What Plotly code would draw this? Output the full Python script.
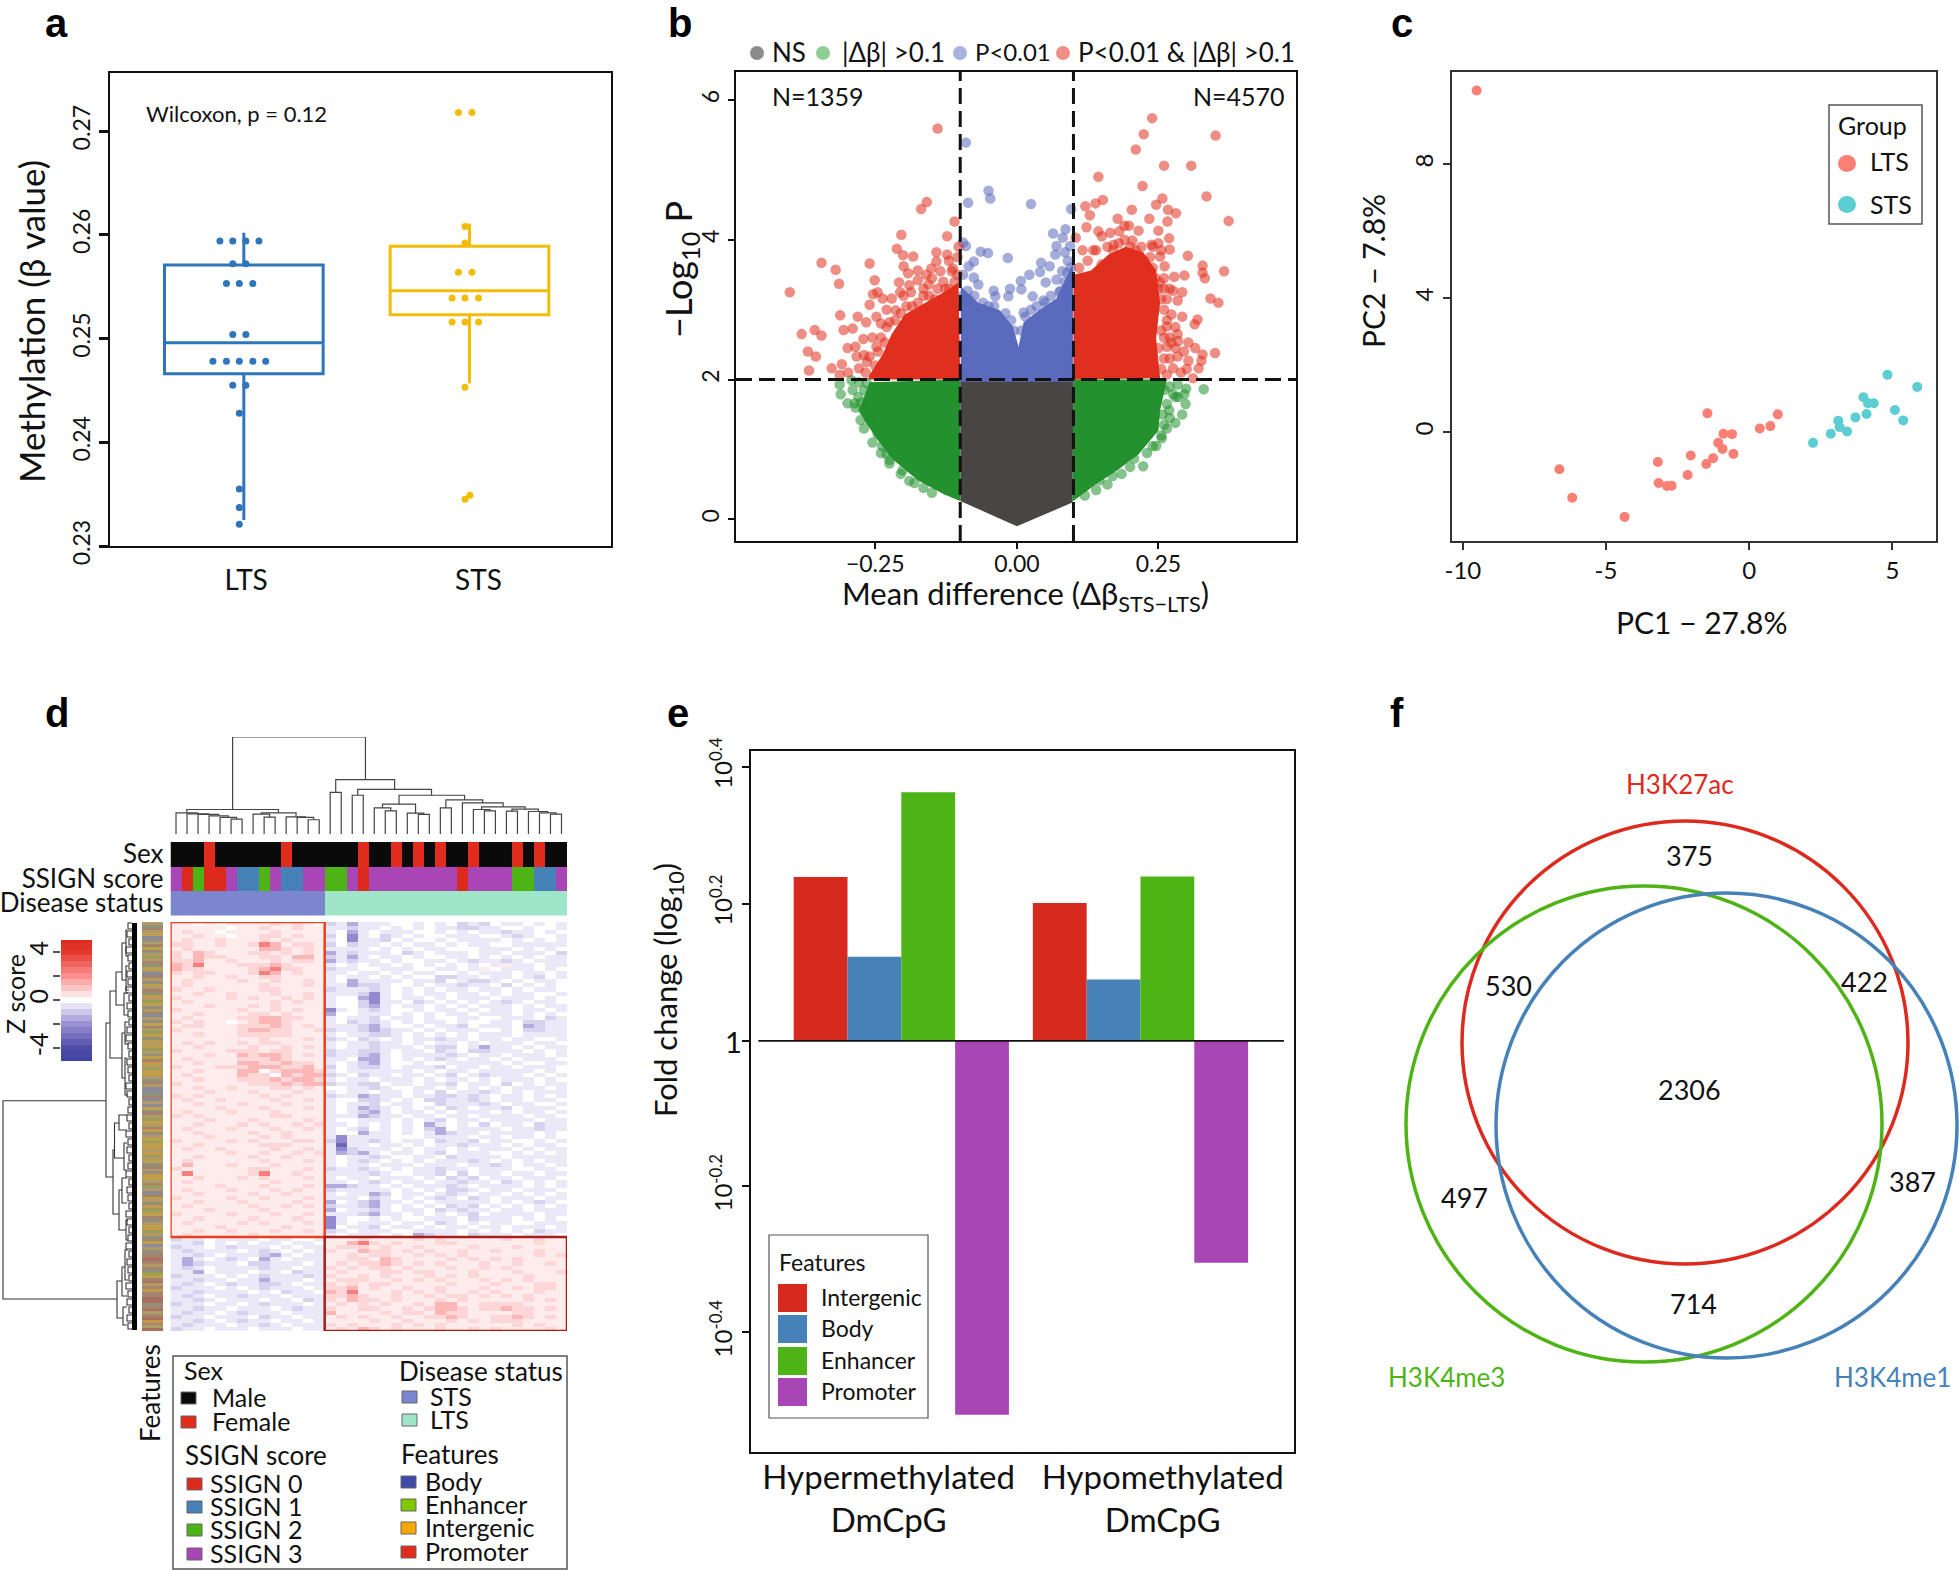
import plotly.graph_objects as go

W, H = 1959, 1570
FONT = "Lato, 'Noto Sans', sans-serif"

# ---- panel a ----
LTS_BOX = dict(q1=0.2466, median=0.2496, q3=0.2571, lowerfence=0.2325, upperfence=0.2602)
STS_BOX = dict(q1=0.2523, median=0.2546, q3=0.2589, lowerfence=0.2457, upperfence=0.2611)
LTS_X = [.894, .951, 1.009, 1.067, .951, 1.009, .923, .98, 1.04, .951, 1.009, .863, .923, .98, 1.04, 1.097, .951, 1.009, .98, .98, .98, .98]
LTS_Y = [.2594, .2594, .2594, .2594, .2572, .2572, .2553, .2553, .2553, .2504, .2504, .2478, .2478, .2478, .2478, .2478, .2455, .2455, .2428, .2355, .2337, .2321]
STS_X = [1.951, 2.011, 1.98, 1.98, 1.951, 2.011, 1.923, 1.98, 2.04, 1.923, 1.98, 2.04, 1.98, 2.002, 1.98]
STS_Y = [.2718, .2718, .2608, .2592, .2564, .2564, .2539, .2539, .2539, .2516, .2516, .2516, .2453, .2349, .2345]

# ---- panel b: outlines of the solid masses, then the points that stand clear of them ----
NS_X = [-0.1, 0.1, 0.098, 0.0, -0.099]
NS_Y = [2.0, 2.0, 0.24, -0.1, 0.26]
GREEN_L_X = [-0.1, -0.26, -0.279, -0.267, -0.248, -0.221, -0.175, -0.129, -0.099]
GREEN_L_Y = [2.0, 1.96, 1.56, 1.39, 1.16, 0.87, 0.56, 0.36, 0.26]
GREEN_R_X = [0.1, 0.098, 0.139, 0.177, 0.215, 0.25, 0.253, 0.265]
GREEN_R_Y = [2.0, 0.25, 0.50, 0.70, 0.93, 1.27, 1.56, 2.0]
RED_L_X = [-0.1, -0.103, -0.129, -0.168, -0.198, -0.221, -0.237, -0.26, -0.263]
RED_L_Y = [2.0, 3.39, 3.25, 3.07, 2.93, 2.65, 2.36, 2.07, 2.0]
RED_R_X = [0.1, 0.1, 0.131, 0.162, 0.192, 0.223, 0.246, 0.253, 0.246, 0.253]
RED_R_Y = [2.0, 3.5, 3.56, 3.79, 3.9, 3.82, 3.56, 3.1, 2.59, 2.02]
BLUE_X = [-0.099, -0.099, -0.068, -0.03, -0.007, 0.003, 0.012, 0.039, 0.07, 0.099, 0.099]
BLUE_Y = [1.97, 3.33, 3.10, 2.99, 2.76, 2.47, 2.82, 2.99, 3.16, 3.67, 1.97]

RED_X = [-.401, -.380, -.357, -.345, -.369, -.355, -.367, -.345, -.320, -.314, -.312, -.327, -.309, -.306, -.299, -.290, -.281, -.285, -.271, -.266, -.260, -.251, -.254, -.248,
         -.212, -.204, -.201, -.169, -.159, -.140, -.110, -.123, -.103, -.183, -.142, -.123, -.142, -.113, -.200, -.192, -.175, -.160, -.151, -.208, -.237, -.221, -.206, -.187, -.175, -.156, -.126,
         -.283, -.279, -.267, -.298, -.260, -.248, -.233, -.225, -.214, -.260, -.246, -.313,
         .239, .224, .210, .351, .260, .308, .144, .222, .152, .139, .121, .129, .203, .335, .374, .257, .246, .267, .281, .234, .266, .178, .198, .123, .144, .181, .215, .250, .269, .104,
         .171, .204, .270, .116, .135, .302, .328, .328, .332, .366, .296, .278, .276, .292, .284, .342, .356, .319, .314, .273, .292, .284, .273, .303, .315, .328, .350, .326, .321, .284, .303, .276, .265, .265, .311, .265, .253, .261, .253, .238,
         .11, .125, .14, .15, .16, .17, .18, .19, .2, .21, .22, .225, .235, .24, .245, .25, .255, .26, .265, .255, .25, .26, .255, .27, .27, .26, .28, .28, .285, .295, .29, .3, .26, .265, .27, .24, .25, .255, .26, .15, .165, .19,
         -.105, -.11, -.12, -.115, -.13, -.14, -.145, -.155, -.165, -.175, -.185, -.195, -.205, -.215, -.23, -.24, -.245, -.25, -.265, -.27, -.255, -.24, -.23, -.2, -.19, -.165, -.15, -.135, -.12, -.105]
RED_Y = [3.25, 2.65, 2.71, 2.63, 2.40, 2.33, 2.13, 3.67, 3.57, 3.37, 2.92, 2.16, 2.22, 2.71, 2.45, 2.73, 2.90, 2.47, 2.58, 2.82, 3.66, 3.42, 3.22, 2.90,
         3.87, 4.07, 3.78, 4.44, 4.54, 5.59, 4.26, 4.05, 3.90, 3.76, 3.82, 3.79, 3.69, 3.59, 3.62, 3.52, 3.56, 3.50, 3.59, 3.39, 3.16, 3.16, 3.25, 3.25, 3.42, 3.36, 3.30,
         2.33, 2.16, 2.10, 2.10, 2.33, 2.47, 2.53, 2.82, 2.99, 3.07, 3.25, 2.07,
         5.74, 5.51, 5.29, 5.49, 5.06, 5.06, 4.90, 4.77, 4.57, 4.52, 4.48, 4.35, 4.43, 4.62, 4.27, 4.59, 4.50, 4.43, 4.38, 4.30, 4.26, 4.30, 4.20, 4.18, 4.12, 4.12, 4.13, 4.13, 4.02, 4.03,
         3.93, 3.99, 3.86, 3.85, 3.85, 3.77, 3.63, 3.53, 3.45, 3.55, 3.49, 3.47, 3.27, 3.25, 3.13, 3.16, 3.10, 2.86, 2.79, 2.93, 2.90, 2.65, 2.53, 2.53, 2.45, 2.36, 2.38, 2.27, 2.16, 2.33, 2.27, 2.16, 2.47, 2.76, 2.02, 2.07, 3.39, 3.62, 3.76, 3.93,
         3.6, 3.7, 3.85, 3.65, 3.9, 3.85, 3.95, 4.0, 3.9, 3.85, 3.9, 3.7, 3.75, 3.6, 3.45, 3.3, 3.15, 3.0, 2.85, 2.7, 2.45, 2.3, 2.15, 2.3, 2.6, 2.6, 2.45, 2.75, 2.55, 2.4, 2.1, 2.15, 3.3, 3.15, 3.3, 3.9, 3.95, 3.85, 3.45, 4.05, 4.1, 4.2,
         3.5, 3.4, 3.3, 3.55, 3.4, 3.3, 3.15, 3.2, 3.2, 3.1, 3.05, 3.05, 2.95, 2.85, 2.75, 2.6, 2.4, 2.2, 2.25, 2.35, 2.6, 2.8, 3.0, 3.2, 3.35, 3.3, 3.45, 3.55, 3.7, 3.75]
PBLUE_X = [-.090, -.050, -.047, -.086, .025, .096, .086, .064, .081, -.095, -.090, -.064, -.051, -.016, .094, .07, .068, .085, .043, .058, .041, .022, .007, .051, .070, .089, -.076, -.085, -.095, -.076, -.068, -.087, -.041, -.012, .008, -.038, -.015, .028, .077, .047, .012,
           -.095, -.085, -.075, -.06, -.05, -.04, -.02, -.01, .015, .025, .035, .05, .06, .075, .085, .095, .09, .08, -.005, .008]
PBLUE_Y = [5.39, 4.70, 4.59, 4.53, 4.51, 4.44, 4.15, 4.09, 4.03, 3.96, 3.91, 3.83, 3.81, 3.74, 3.91, 3.91, 3.79, 3.82, 3.67, 3.62, 3.54, 3.50, 3.41, 3.39, 3.43, 3.53, 3.69, 3.62, 3.50, 3.46, 3.36, 3.27, 3.27, 3.30, 3.29, 3.19, 3.19, 3.19, 3.27, 3.13, 2.96,
           3.2, 3.15, 3.2, 3.1, 3.05, 3.05, 2.95, 2.85, 2.9, 3.0, 3.05, 3.1, 3.2, 3.25, 3.4, 3.6, 3.7, 3.55, 2.7, 2.7]
PGREEN_X = [-.313, -.292, -.311, -.299, -.286, -.279, -.275, -.271, -.276, -.26, -.246, -.238, -.230, -.225, -.181, -.202,
            .284, .330, .299, .296, .298, .292, .280, .265, .256, .223, .269, .257, .246, .276, .261, .207, .169, .146,
            -.28, -.285, -.27, -.255, -.24, -.225, -.205, -.19, -.165, -.15, -.27, -.29, -.265,
            .27, .28, .265, .27, .26, .255, .24, .23, .2, .185, .16, .14, .12, .285]
PGREEN_Y = [1.93, 1.99, 1.79, 1.66, 1.66, 1.96, 1.67, 1.56, 1.42, 1.42, 1.22, 1.05, .93, .85, .52, .70,
            1.93, 1.86, 1.87, 1.79, 1.65, 1.50, 1.38, 1.30, 1.16, .76, 1.56, 1.50, 1.05, 1.79, 1.85, .87, .62, .56,
            1.75, 1.6, 1.3, 1.1, .95, .8, .65, .55, .45, .38, 1.85, 1.85, 1.95,
            1.9, 1.75, 1.65, 1.45, 1.35, 1.2, 1.05, .95, .75, .65, .5, .42, .34, 1.75]

# ---- panel c ----
PC_LTS_X = [-9.52, -6.63, -6.18, -4.35, -3.19, -3.16, -2.87, -2.71, -2.15, -2.04, -1.50, -1.26, -1.08, -0.93, -0.90, -0.60, -0.55, -1.46, 0.37, 0.74, 1.00]
PC_LTS_Y = [10.2, -1.11, -1.96, -2.53, -0.89, -1.52, -1.61, -1.60, -1.28, -0.70, -0.95, -0.78, -0.32, -0.50, -0.05, -0.06, -0.65, 0.56, 0.11, 0.18, 0.53]
PC_STS_X = [2.23, 2.85, 3.11, 3.16, 3.42, 3.71, 3.99, 4.10, 4.15, 4.35, 4.83, 5.09, 5.38, 5.87]
PC_STS_Y = [-0.32, -0.05, 0.34, 0.15, 0.02, 0.44, 1.04, 0.54, 0.86, 0.86, 1.71, 0.66, 0.35, 1.35]

# ---- panel d: one digit per cell, level of the z score ----
Z_LEVELS = [-3.2, -2.2, -1.5, -0.8, -0.4, 0, 0.35, 0.7, 1.3, 2.4]
HEAT_ROWS = """
66565666676765 3424445545453435445454
66666566766766 4434454545443344554554
67665666676666 4524544455454544344545
66766566776766 3514534545544455434554
67667666767666 4514435455454444545454
77667667986776 3534454544545445544444
67666666887676 4444545454455544454545
76876667767676 2434445345444544544453
76877666776886 3424544545544545454544
77866766676776 2434454554454344345444
87966677787666 4545445454545454644544
87766667897766 3445544455445465444545
76776667986766 4454454544554544454454
66766766776666 4544545455334454454354
67666676676676 4524444544354334545445
67666666766676 4423345545443445354545
76676666776666 3444345454544544545445
66766766676676 4443145454454454544554
76666767667676 4552145445454445444545
67666666676766 4553144534545454345445
66676667676666 4553245445454544454544
76666676676766 1454345545445454454454
66766667767666 2554445454544544454545
67666677887766 4544354454554455444534
76766567887666 4534345454454554453344
67766677787676 4443245545443544452344
76666678877667 3443234454544455453344
66766677777666 4544334545454544454444
66666666766676 3453454544344544544554
67676676776666 4544344545445454445445
66766667667676 4544344454335424454544
76666777677666 3443345445345334445454
66676687887676 3443245444434544544454
67666677787666 4452245454345445454445
66766688778776 4543245545544444545544
76667778887786 3543345444354454454445
66766688578887 4544444454544544444545
67666687758788 3453445445435434445454
66766677787887 4544544454544545444545
76666667778788 3443354454435445354544
66766766677676 5544345544545454544454
66676667666766 4544544545354434545444
76766666767666 3442344544334345445454
67667666676676 4553345453344345445445
66766676667666 4544354455344434544554
66667666766676 4542345454534544354445
67666766676666 4543245445454445454454
76766666677666 4442344544544544445445
66676667666676 4554445454354454444544
66766676766767 4454545452454535445344
67666766676676 4543545453254444544344
66766667667666 4552445454234454444545
66676666767666 4144445554444544544545
76666767666776 3144345445344354455454
66766666777666 4044544545443444545445
67667666676676 4134445454454544454544
66666766766767 4232454454354445545454
66766667667666 4544345544534444544444
67666666766676 4543454545444345454544
68666766676666 4544544454445443454454
76666667766676 3443454544344544455445
69666667966766 4444345544353544544544
66766676766676 4544544454534354454445
67666666676666 4454345445443445345454
66667666766676 2234454544434544445454
67666766676766 3444445454533454454445
66766667667666 4544235445434544545454
76666766766676 4445345454345345444544
66766676666766 2543244545444445454345
67666667667676 3443245454534354545454
66676666766666 2544345445343445445444
76666766676676 4443244545454354444544
66766667666766 1455454554445344454545
67666676766676 1454445445345454455444
66667666667666 1544354454544544544454
66766766676676 3454445544445454545344
67666667666666 4544454523445344454445
34454444544554 6667666676766666766766
44354545445445 6689767666776666666766
34454344454544 6777676676666766676666
43444454345454 7668776767667667666766
44345444324544 6676776676767666666767
42454345245444 6677687666676767676666
42344453344454 6767787676766676676676
43454444344544 7676776766676676766666
44254445445344 6766677677666766676667
34445454344434 7667676667676766667666
44344544244454 6777667676766676767666
43454344334544 7676776666676667666776
34445454344454 7786766766766676676776
44344445453445 8796667676766767666766
43454434445444 7787667667677676767666
44345444544534 7687767666767666667676
34454454344454 6767676676886677776666
44344544454344 7667766767887677877676
43445434445444 8666676776877666677666
34454445344544 6767667667787667787676
44345434454454 6666766766676767776666
43444544345444 7676667676766666676766
34454445444544 6768767666766767666676
""".split("\n")
HEAT_ROWS = [r.replace(" ", "") for r in HEAT_ROWS if r.strip()]

SEX_TRACK = [0, 0, 0, 1, 0, 0, 0, 0, 0, 0, 1, 0, 0, 0, 0, 0, 0, 1, 0, 0, 1, 0, 1, 0, 1, 0, 0, 1, 0, 0, 0, 1, 0, 1, 0, 0]
SSIGN_TRACK = [3, 0, 2, 0, 0, 3, 1, 1, 2, 3, 1, 1, 3, 3, 2, 2, 3, 0, 3, 3, 3, 3, 3, 3, 3, 3, 0, 3, 3, 3, 3, 2, 2, 1, 1, 3]
STATUS_TRACK = [0] * 14 + [1] * 22
FEATURE_STRIP = "acdabecadbcafadcbaedacbadcgafbcadeacbdafbcgabfacbdgafbgacdaeecdeaebcdafbadgcabfbgagfabcdacgbadfaedbacgfabdcabgfacdbeacddhdadcfbdhadgddhhcdhadhgdah"
STRIP_COLORS = ["#b09a68", "#bfa04a", "#92907c", "#a5846e", "#8a8a9a", "#9a9c58", "#c49a48", "#ab6f60"]
COLORBAR_LEVELS = [-5, -4.5, -4, -3.5, -3, -2.5, -2, -1.5, -1, -0.5, 0, 0.5, 1, 1.5, 2, 2.5, 3, 3.5, 4, 4.5, 5]

# column tree: left x, left height, right x, right height, join height
COL_TREE = [
    [5, 0, 6, 0, 45], [4, 0, 5.5, 45, 50], [3, 0, 4.75, 50, 55], [2, 0, 3.875, 55, 59], [1, 0, 2.94, 59, 61], [0, 0, 1.97, 61, 64],
    [8, 0, 9, 0, 51], [7, 0, 8.5, 51, 60], [12, 0, 13, 0, 43], [11, 0, 12.5, 43, 50], [10, 0, 11.75, 50, 52], [7.75, 60, 10.9, 52, 64],
    [0.98, 64, 9.3, 64, 74], [5.14, 74, 17.2, 164, 293],
    [14, 0, 15, 0, 126], [16, 0, 17, 0, 117], [19, 0, 20, 0, 70], [18, 0, 19.5, 70, 79], [22, 0, 23, 0, 59], [21, 0, 22.5, 59, 63],
    [18.75, 79, 21.75, 63, 90], [24, 0, 25, 0, 79], [28, 0, 29, 0, 70], [27, 0, 28.5, 70, 74], [30, 0, 31, 0, 69],
    [34, 0, 35, 0, 60], [33, 0, 34.5, 60, 64], [32, 0, 33.75, 64, 68], [30.5, 69, 32.9, 68, 75], [27.75, 74, 31.7, 75, 82],
    [26, 0, 29.7, 82, 94], [24.5, 79, 27.85, 94, 103], [20.25, 90, 26.2, 103, 117], [16.5, 117, 23.2, 117, 135], [14.5, 126, 19.85, 135, 164],
]
# row tree: upper y, upper x, lower y, lower x, join x
ROW_TREE = [
    [1100.7, 106, 1299, 117, 3], [1023, 110, 1177, 113, 106], [991, 116, 1058, 122, 110], [972, 122, 1005, 124, 116],
    [943, 126, 980, 126, 122], [993, 128, 1015, 128, 124], [1033, 125, 1078, 125, 122], [1150, 114.5, 1214, 119, 113],
    [1123, 119, 1158, 124, 114.5], [1115, 127, 1130, 127, 119], [1143, 127, 1170, 127, 124], [1190, 122, 1230, 126, 119],
    [1178, 127, 1203, 127, 122], [1220, 128, 1240, 128, 126], [1281, 122, 1318, 123, 117], [1267, 125, 1296, 127, 122],
    [1250, 128, 1280, 128, 125], [1307, 127, 1325, 127, 123], [930, 127, 956, 128, 126], [966, 128, 990, 129, 126],
    [1022, 128, 1044, 129, 125], [1058, 127, 1095, 128, 125],
]
TWIG_Y = [926, 934, 942, 950, 958, 966, 974, 982, 990, 998, 1006, 1014, 1022, 1030, 1038, 1046, 1054, 1062, 1070, 1078, 1086, 1094, 1102, 1110, 1118, 1126, 1134, 1142, 1150, 1158, 1166, 1174, 1182, 1190, 1198, 1206, 1214, 1222, 1230, 1238, 1246, 1254, 1262, 1270, 1278, 1286, 1294, 1302, 1310, 1318, 1326]
TWIG_X = [128, 127, 129, 126, 128, 129, 127, 128, 126, 129, 127, 128, 129, 127, 126, 128, 129, 127, 128, 129, 126, 127, 129, 128, 127, 129, 126, 128, 127, 129, 128, 126, 129, 127, 128, 129, 126, 127, 129, 128, 126, 129, 127, 128, 129, 126, 128, 127, 129, 127, 128]

# ---- panel e ----
E_GROUPS = [0, 1]
E_VALUES = {
    "Intergenic": [0.2392, 0.2012],
    "Body": [0.1228, 0.0895],
    "Enhancer": [0.3628, 0.2400],
    "Promoter": [-0.5457, -0.3240],
}
E_COLORS = {"Intergenic": "#d62a1e", "Body": "#4682b8", "Enhancer": "#4eb416", "Promoter": "#a946b5"}
E_TICKS = [0.4, 0.2, 0, -0.2123, -0.4253]
E_TICK_TEXT = ["10<sup>0.4</sup>", "10<sup>0.2</sup>", "", "10<sup>-0.2</sup>", "10<sup>-0.4</sup>"]

# ---- panel f ----
VENN_LABELS = ["H3K27ac", "H3K4me3", "H3K4me1"]
VENN_COUNTS = [375, 530, 422, 2306, 497, 387, 714]


def px_x(x):
    return x / W


def px_y(y):
    return 1 - y / H


fig = go.Figure()
notes, shapes = [], []


def note(x, y, text, size=24, color="#111", anchor="left", angle=0, family=FONT, bold=False):
    if bold:
        text = "<b>" + text + "</b>"
    notes.append(dict(x=px_x(x), y=px_y(y), xref="paper", yref="paper", text=text, showarrow=False,
                      xanchor=anchor, yanchor="middle", textangle=angle, font=dict(size=size, color=color, family=family)))


def rect(x0, y0, x1, y1, fill="rgba(0,0,0,0)", line="#444", width=1):
    shapes.append(dict(type="rect", xref="paper", yref="paper", x0=px_x(x0), x1=px_x(x1), y0=px_y(y0), y1=px_y(y1),
                       fillcolor=fill, line=dict(color=line, width=width), layer="above"))


def oval(x0, y0, x1, y1, fill="rgba(0,0,0,0)", line=None, width=0, opacity=1):
    shapes.append(dict(type="circle", xref="paper", yref="paper", x0=px_x(x0), x1=px_x(x1), y0=px_y(y0), y1=px_y(y1),
                       fillcolor=fill, opacity=opacity, line=dict(color=line or "rgba(0,0,0,0)", width=width), layer="above"))


def axes(n, box, x=None, y=None):
    x0, x1, y0, y1 = box
    # the default template turns automargin on, which would shrink every panel
    xa = dict(domain=[px_x(x0), px_x(x1)], anchor=f"y{n}", showgrid=False, zeroline=False, showticklabels=False, ticks="", automargin=False)
    ya = dict(domain=[px_y(y1), px_y(y0)], anchor=f"x{n}", showgrid=False, zeroline=False, showticklabels=False, ticks="", automargin=False)
    xa.update(x or {})
    ya.update(y or {})
    fig.update_layout(**{f"xaxis{n}": xa, f"yaxis{n}": ya})


def framed(rng, **kw):
    d = dict(range=rng, showline=True, mirror=True, linecolor="#111", linewidth=2, showticklabels=True,
             ticks="outside", tickcolor="#111", tickfont=dict(size=23, color="#111", family=FONT))
    d.update(kw)
    return d


def stepped(colors):
    n = len(colors)
    out = []
    for i, c in enumerate(colors):
        out += [[i / n, c], [(i + 1) / n, c]]
    return out


# panel letters
for letter, lx, ly in [("a", 56, 23), ("b", 680, 23), ("c", 1402, 23), ("d", 57, 713), ("e", 678, 713), ("f", 1397, 713)]:
    note(lx, ly, letter, size=40, color="#000", anchor="center", family="'Liberation Sans', sans-serif", bold=True)

# ---- a ----
axes(1, (110, 611, 73, 546),
     framed([0.407, 2.627], tickvals=[1.01, 2.04], ticktext=["LTS", "STS"], ticks="", ticklabelstandoff=8,
            tickfont=dict(size=28, color="#111", family=FONT)),
     framed([0.23, 0.2756], tickvals=[0.23, 0.24, 0.25, 0.26, 0.27], ticktext=["0.23", "0.24", "0.25", "0.26", "0.27"],
            tickangle=-90, ticklen=9, tickwidth=3))
for pos, stats, col, dx, dy in [(1, LTS_BOX, "#2f75bb", LTS_X, LTS_Y), (2, STS_BOX, "#f2bd0a", STS_X, STS_Y)]:
    fig.add_trace(go.Box(x=[pos], q1=[stats["q1"]], median=[stats["median"]], q3=[stats["q3"]],
                         lowerfence=[stats["lowerfence"]], upperfence=[stats["upperfence"]], width=0.703,
                         whiskerwidth=0, boxpoints=False, fillcolor="rgba(0,0,0,0)", line=dict(color=col, width=3),
                         xaxis="x1", yaxis="y1", showlegend=False))
    fig.add_trace(go.Scatter(x=dx, y=dy, mode="markers", marker=dict(size=7, color=col), xaxis="x1", yaxis="y1", showlegend=False))
note(144, 114, "Wilcoxon, p = 0.12", size=22)
note(31, 322, "Methylation (β value)", size=35, anchor="center", angle=-90)

# ---- b ----
axes(2, (736, 1296, 72, 541),
     framed([-0.496, 0.493], tickvals=[-0.25, 0, 0.25], ticktext=["−0.25", "0.00", "0.25"], ticklen=6, tickwidth=2, ticklabelstandoff=-5),
     framed([-0.31, 6.4], tickvals=[0, 2, 4, 6], ticktext=["0", "2", "4", "6"], tickangle=-90, ticklen=6, tickwidth=2))
for px, py, col in [(GREEN_L_X, GREEN_L_Y, "#22912e"), (GREEN_R_X, GREEN_R_Y, "#22912e"), (NS_X, NS_Y, "#4a4545"),
                    (RED_L_X, RED_L_Y, "#e02f1e"), (RED_R_X, RED_R_Y, "#e02f1e"), (BLUE_X, BLUE_Y, "#5a6abc")]:
    fig.add_trace(go.Scatter(x=px, y=py, mode="lines", fill="toself", fillcolor=col, line=dict(width=0, color=col),
                             xaxis="x2", yaxis="y2", showlegend=False))
for px, py, col in [(PGREEN_X, PGREEN_Y, "#22912e"), (PBLUE_X, PBLUE_Y, "#5a6abc"), (RED_X, RED_Y, "#e02f1e")]:
    fig.add_trace(go.Scatter(x=px, y=py, mode="markers", marker=dict(size=10.5, color=col, opacity=0.55),
                             xaxis="x2", yaxis="y2", showlegend=False))
for lx, ly in [([-0.1, -0.1], [-0.31, 6.4]), ([0.1, 0.1], [-0.31, 6.4]), ([-0.496, 0.493], [2, 2])]:
    fig.add_trace(go.Scatter(x=lx, y=ly, mode="lines", line=dict(color="#111", width=3, dash="16px,7px"),
                             xaxis="x2", yaxis="y2", showlegend=False))
for cx, col, tx, label, lsize in [(757, "#8c8c8c", 770, "NS", 26), (823, "#8fcf95", 840, "|Δβ| &gt;0.1", 26),
                                  (960, "#a9b1de", 973, "P&lt;0.01", 24), (1063, "#f08f85", 1076, "P&lt;0.01 &amp; |Δβ| &gt;0.1", 26)]:
    oval(cx - 7, 46, cx + 7, 60, fill=col)
    note(tx, 52, label, size=lsize)
note(770, 96, "N=1359", size=25)
note(1191, 96, "N=4570", size=25)
note(1025, 595, "Mean difference (Δβ<sub>STS−LTS</sub>)", size=31, anchor="center")
note(681, 270, "−Log<sub>10</sub> P", size=36, anchor="center", angle=-90)

# ---- c ----
axes(3, (1452, 1936, 72, 541),
     framed([-10.38, 6.525], tickvals=[-10, -5, 0, 5], ticktext=["-10", "-5", "0", "5"], linecolor="#333", ticklen=7, tickwidth=2,
            tickcolor="#333", tickfont=dict(size=24, color="#111", family=FONT)),
     framed([-3.25, 10.75], tickvals=[0, 4, 8], ticktext=["0", "4", "8"], tickangle=-90, linecolor="#333", ticklen=7, tickwidth=2,
            tickcolor="#333", tickfont=dict(size=24, color="#111", family=FONT)))
fig.add_trace(go.Scatter(x=PC_LTS_X, y=PC_LTS_Y, mode="markers", marker=dict(size=10, color="#fa7f74"), xaxis="x3", yaxis="y3", showlegend=False))
fig.add_trace(go.Scatter(x=PC_STS_X, y=PC_STS_Y, mode="markers", marker=dict(size=10, color="#5ccdd2"), xaxis="x3", yaxis="y3", showlegend=False))
note(1702, 622, "PC1 − 27.8%", size=30, anchor="center")
note(1373, 271, "PC2 − 7.8%", size=30, anchor="center", angle=-90)
rect(1829, 105, 1922, 224, fill="#fff", line="#555", width=1.5)
note(1836, 125, "Group", size=25)
oval(1838, 155, 1856, 172, fill="#fa7f74")
oval(1838, 196, 1856, 213, fill="#5ccdd2")
note(1868, 161, "LTS", size=25)
note(1868, 204, "STS", size=25)

# ---- d ----
HEAT_X = (170.5, 567)
heat_scale = [[0, "#3f46a4"], [0.1, "#4f4ca8"], [0.3, "#9a90d2"], [0.45, "#e6e2f5"], [0.5, "#ffffff"],
              [0.55, "#fde2e2"], [0.7, "#fb8f8f"], [0.9, "#e5392f"], [1, "#dd2a1e"]]
axes(4, (*HEAT_X, 922, 1331), dict(range=[-0.5, 35.5]), dict(range=[99.5, -0.5]))
fig.add_trace(go.Heatmap(z=[[Z_LEVELS[int(ch)] for ch in row] for row in HEAT_ROWS], zmin=-5, zmax=5, colorscale=heat_scale,
                         showscale=False, xaxis="x4", yaxis="y4", hoverinfo="skip"))
shapes.append(dict(type="rect", xref="x4", yref="y4", x0=-0.5, x1=13.5, y0=-0.5, y1=76.5, line=dict(color="#e8401c", width=2.5), layer="above"))
shapes.append(dict(type="rect", xref="x4", yref="y4", x0=13.5, x1=35.5, y0=76.5, y1=99.5, line=dict(color="#a81f1a", width=2.5), layer="above"))

# annotation tracks: 0-1 sex, 2-5 SSIGN, 6-7 status
track_colors = ["#0a0a0a", "#e02b1d", "#dc2b1c", "#4682b8", "#4eb416", "#a946b5", "#7c86cf", "#9ee6c7"]
track_z = [SEX_TRACK, [v + 2 for v in SSIGN_TRACK], [v + 6 for v in STATUS_TRACK]]
axes(5, (*HEAT_X, 842, 915.5), dict(range=[-0.5, 35.5]),
     dict(range=[2.5, -0.5], showticklabels=True, tickvals=[0, 1, 2], ticktext=["Sex", "SSIGN score", "Disease status"],
          tickfont=dict(size=26, color="#111", family=FONT), ticklabelstandoff=6))
fig.add_trace(go.Heatmap(z=track_z, zmin=0, zmax=8, colorscale=stepped(track_colors), showscale=False, xaxis="x5", yaxis="y5", hoverinfo="skip"))

# column tree
col_x, col_y = [], []
for xl, hl, xr, hr, top in COL_TREE:
    col_x += [xl, xl, xr, xr, None]
    col_y += [hl, top, top, hr, None]
axes(6, (*HEAT_X, 737, 834), dict(range=[-0.5, 35.5]), dict(range=[0, 293]))
fig.add_trace(go.Scatter(x=col_x, y=col_y, mode="lines", line=dict(color="#444", width=1.2), xaxis="x6", yaxis="y6", showlegend=False, hoverinfo="skip"))

# row tree
row_x, row_y = [], []
for yt, xt, yb, xb, join in ROW_TREE:
    row_x += [xt, join, join, xb, None]
    row_y += [yt, yt, yb, yb, None]
for ty, tx in zip(TWIG_Y, TWIG_X):
    row_x += [132, tx, tx, 132, None]
    row_y += [ty - 3, ty - 3, ty + 3, ty + 3, None]
axes(7, (0, 137, 922, 1331), dict(range=[0, 137]), dict(range=[1331, 922]))
fig.add_trace(go.Scatter(x=row_x, y=row_y, mode="lines", line=dict(color="#333", width=1.1), xaxis="x7", yaxis="y7", showlegend=False, hoverinfo="skip"))
fig.add_trace(go.Scatter(x=[134.5, 134.5], y=[923, 1330], mode="lines", line=dict(color="#000", width=5), xaxis="x7", yaxis="y7", showlegend=False, hoverinfo="skip"))

# feature strip
axes(8, (142, 163, 922, 1331), dict(range=[-0.5, 0.5]), dict(range=[len(FEATURE_STRIP) - 0.5, -0.5]))
fig.add_trace(go.Heatmap(z=[["abcdefgh".index(ch)] for ch in FEATURE_STRIP], zmin=0, zmax=8, colorscale=stepped(STRIP_COLORS),
                         showscale=False, xaxis="x8", yaxis="y8", hoverinfo="skip"))
note(150, 1393, "Features", size=26, anchor="center", angle=-90)

# z colour key
axes(9, (61, 92, 940, 1061), dict(range=[-0.5, 0.5]),
     dict(range=[-5.08, 5.0], showticklabels=True, ticks="outside", ticklen=7, tickwidth=1.5, tickcolor="#555", tickangle=-90,
          tickvals=[-4, -2, 0, 2, 4], ticktext=["-4", "", "0", "", "4"], tickfont=dict(size=25, color="#111", family=FONT), ticklabelstandoff=-5))
fig.add_trace(go.Heatmap(z=[[v] for v in COLORBAR_LEVELS], y=COLORBAR_LEVELS, zmin=-5, zmax=5, colorscale=heat_scale,
                         showscale=False, xaxis="x9", yaxis="y9", hoverinfo="skip"))
note(15, 994, "Z score", size=25, anchor="center", angle=-90)

# d legend
rect(173, 1356, 567, 1569, line="#555", width=1.5)
note(182, 1370, "Sex", size=25)
note(397, 1371, "Disease status", size=26)
note(183, 1455, "SSIGN score", size=26)
note(399, 1454, "Features", size=26)
for sx, tx, sy, col, label in [
    (181, 210, 1398, "#0a0a0a", "Male"), (181, 210, 1422, "#e02b1d", "Female"),
    (187, 208, 1484, "#dc2b1c", "SSIGN 0"), (187, 208, 1507, "#4682b8", "SSIGN 1"),
    (187, 208, 1530, "#4eb416", "SSIGN 2"), (187, 208, 1554, "#a946b5", "SSIGN 3"),
    (402, 428, 1397, "#7c86cf", "STS"), (402, 428, 1420, "#9ee6c7", "LTS"),
    (401, 423, 1482, "#3e4aa8", "Body"), (401, 423, 1505, "#7fc800", "Enhancer"),
    (401, 423, 1528, "#f5a800", "Intergenic"), (401, 423, 1552, "#e02b1d", "Promoter"),
]:
    rect(sx, sy - 6, sx + 15, sy + 6, fill=col, line="#666", width=1)
    note(tx, sy - 1, label, size=25)

# ---- e ----
axes(10, (751, 1294, 751, 1452),
     framed([-0.6286, 1.642], tickvals=[-0.053, 1.093], ticktext=["Hypermethylated<br>DmCpG", "Hypomethylated<br>DmCpG"],
            ticks="", tickfont=dict(size=33, color="#111", family=FONT), ticklabelstandoff=-5),
     framed([-0.6, 0.423], tickvals=E_TICKS, ticktext=E_TICK_TEXT, tickangle=-90, ticklen=7, tickwidth=2,
            tickfont=dict(size=24, color="#111", family=FONT)))
for name, vals in E_VALUES.items():
    fig.add_trace(go.Bar(x=E_GROUPS, y=vals, marker=dict(color=E_COLORS[name], line=dict(width=0)), xaxis="x10", yaxis="y10", showlegend=False))
fig.add_trace(go.Scatter(x=[-0.598, 1.6], y=[0, 0], mode="lines", line=dict(color="#111", width=1.6), xaxis="x10", yaxis="y10", showlegend=False))
note(733, 1041, "1", size=29, anchor="center")
note(667, 990, "Fold change (log<sub>10</sub>)", size=31, anchor="center", angle=-90)
rect(769, 1235, 928, 1418, fill="#fff", line="#555", width=1.2)
note(777, 1262, "Features", size=23)
for (name, col), sy in zip(E_COLORS.items(), [1298, 1329, 1361, 1392]):
    rect(778, sy - 14, 807, sy + 14, fill=col, line="rgba(0,0,0,0)", width=0)
    note(819, sy - 1, name, size=23)

# ---- f ----
for x0, y0, x1, y1, col in [(1462, 821, 1908, 1264, "#dd2a1e"), (1406, 886, 1882, 1362, "#4eb416"), (1496, 893, 1957, 1358, "#4682b8")]:
    oval(x0, y0, x1, y1, line=col, width=3.5)
for (lx, ly), label, col in zip([(1680, 784), (1446, 1377), (1892, 1377)], VENN_LABELS, ["#dd2a1e", "#4eb416", "#4682b8"]):
    note(lx, ly, label, size=26, color=col, anchor="center")
for (lx, ly), count in zip([(1689, 855), (1508, 985), (1864, 981), (1689, 1089), (1464, 1197), (1912, 1181), (1693, 1303)], VENN_COUNTS):
    note(lx, ly, str(count), size=27, anchor="center")

fig.update_layout(width=W, height=H, autosize=False, margin=dict(l=0, r=0, t=0, b=0), paper_bgcolor="#fff", plot_bgcolor="#fff",
                  barmode="group", bargap=0.1, bargroupgap=0, annotations=notes, shapes=shapes, showlegend=False,
                  font=dict(family=FONT))
fig.write_html("out.html", config={"displayModeBar": False},
               post_script="document.body.style.margin='0';document.body.style.overflow='hidden';")
